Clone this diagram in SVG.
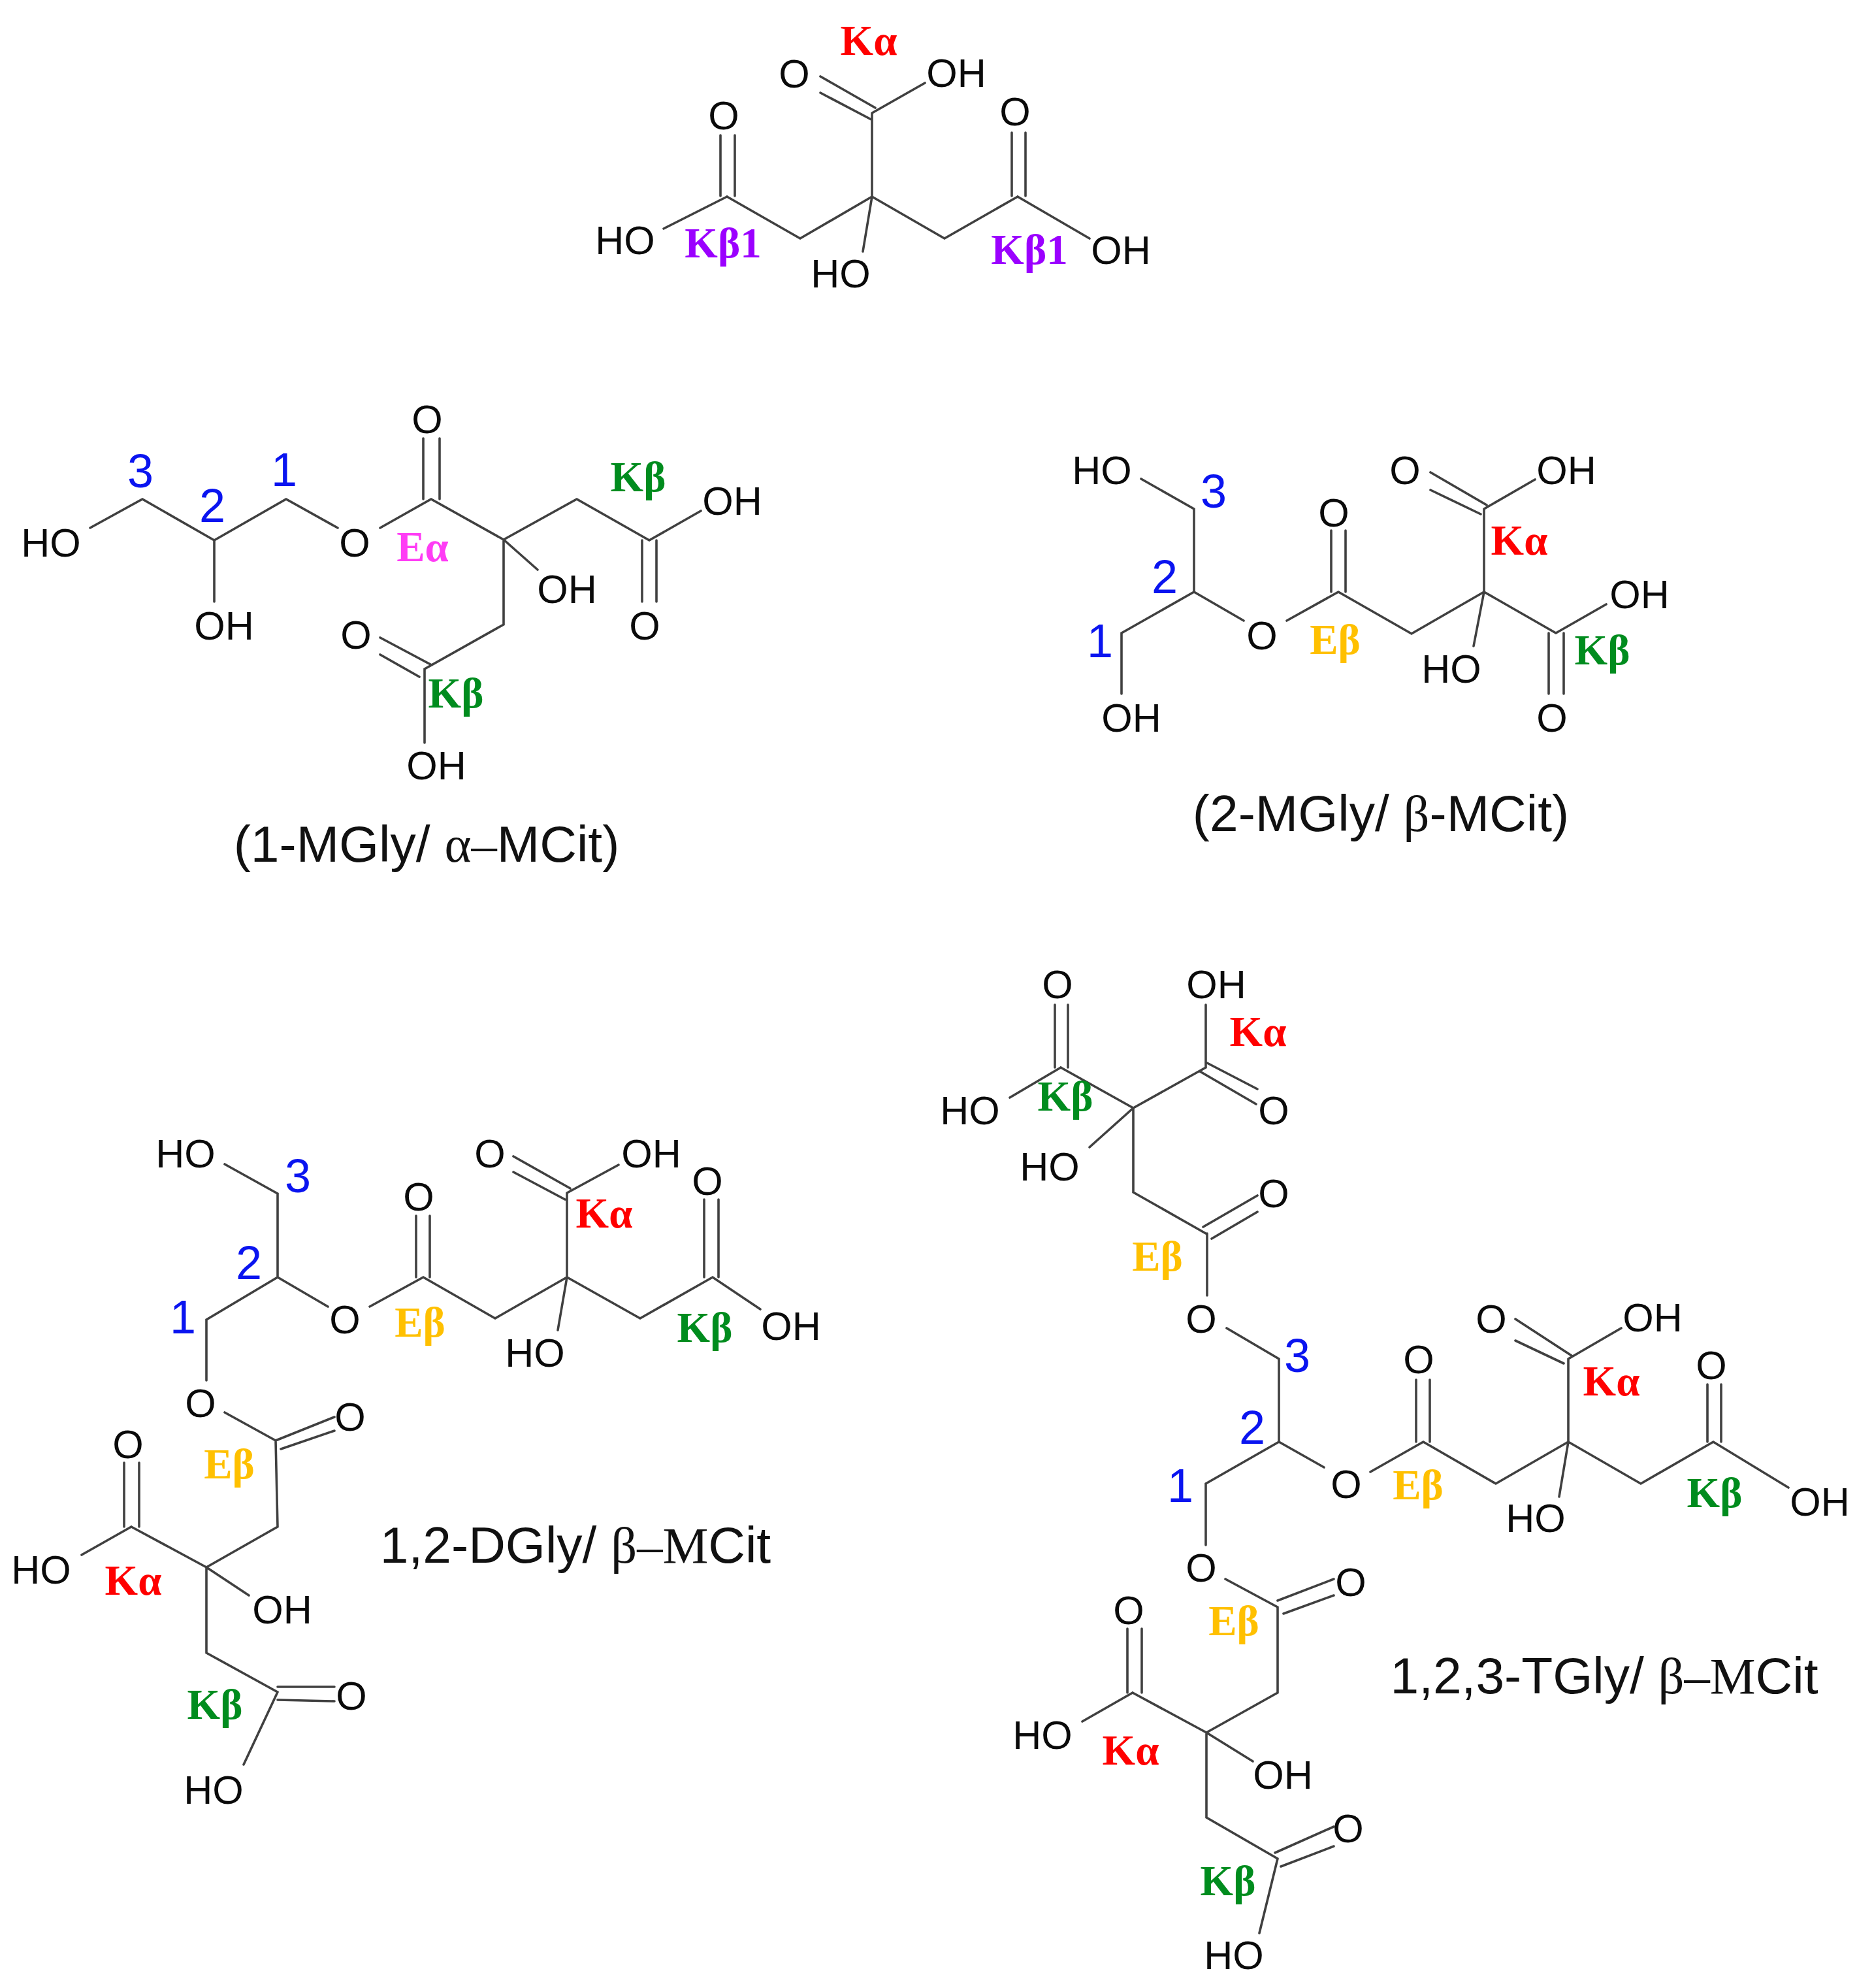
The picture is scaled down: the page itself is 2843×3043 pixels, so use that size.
<svg xmlns="http://www.w3.org/2000/svg" width="2843" height="3043" viewBox="0 0 2843 3043">
<style>
.bg{fill:#fff}
.b{fill:none;stroke:#404040;stroke-width:3.6;stroke-linecap:round;stroke-linejoin:miter}
text{text-anchor:middle}
.a{font-family:"Liberation Sans",Arial,sans-serif;font-size:61px;fill:#0a0a0a}
.n{font-family:"Liberation Sans",Arial,sans-serif;font-size:72px;fill:#0a14f0}
.l{font-family:"Liberation Serif","Times New Roman",serif;font-weight:bold;font-size:65px}
.c{font-family:"Liberation Sans",Arial,sans-serif;font-size:78.5px;fill:#111}
.g{font-family:"Liberation Serif","Times New Roman",serif}
.r{fill:#ff0000}.p{fill:#9b00ff}.gr{fill:#008c1e}.y{fill:#ffc000}.m{fill:#ff3cf5}
</style>
<rect class="bg" width="2843" height="3043"/>
<g id="connectors">
<path id="bonds-citric" class="b" d="M1256 117L1340 165M1256 142L1334 183M1335 173L1416 127M1335 173V301M1335 301L1225 365L1113 301M1103 300V207M1125 300V207M1113 301L1016 350M1335 301L1446 365L1558 301M1549 300V203M1570 300V203M1558 301L1668 365M1335 301L1321 385"/>
<path id="bonds-1mgly" class="b" d="M138 808L218 764L328 827L438 764L517 808M328 827V921M582 808L660 764L771 826L883 764L994 827L1073 782M648 764V671M673 764V671M983 827V921M1005 827V921M771 826L823 872M771 826V956L650 1024V1137M582 976L661 1018M582 1002L642 1036"/>
<path id="bonds-2mgly" class="b" d="M1747 733L1828 779V906L1717 969V1062M1828 906L1904 950M1970 950L2049 906L2161 970L2272 906L2382 969L2459 925M2038 906V812M2060 906V812M2272 906V779M2190 723L2276 773M2190 750L2267 787M2272 779L2350 734M2272 906L2256 989M2371 969V1062M2394 969V1062"/>
<path id="bonds-12dgly" class="b" d="M344 1782L425 1827V1955L316 2020V2113M425 1955L502 2000M566 2000L648 1955L758 2018L868 1955L980 2018L1091 1955L1164 2004M637 1955V1861M658 1955V1861M868 1955V1826M786 1770L873 1819M786 1794L865 1836M868 1826L947 1783M868 1955L854 2036M1078 1955V1836M1100 1955V1836M344 2162L422 2205L425 2337L316 2399M422 2205L512 2169M430 2218L512 2190M316 2399L201 2337M190 2337V2239M213 2337V2239M201 2337L125 2380M316 2399L381 2442M316 2399V2530L425 2590M425 2582L512 2582M425 2602L512 2604M425 2590L373 2701"/>
<path id="bonds-123tgly" class="b" d="M1735 1696L1624 1634M1615 1634V1538M1635 1634V1538M1624 1634L1546 1680M1735 1696L1846 1634V1538M1846 1626L1925 1667M1837 1640L1923 1690M1735 1696L1668 1756M1735 1696V1825L1846 1888M1842 1878L1925 1830M1855 1896L1925 1855M1848 1888V1983M1878 2033L1958 2080V2207L1846 2271V2365M1958 2207L2027 2246M2098 2253L2179 2207L2290 2271L2401 2207L2512 2271L2623 2207L2738 2277M2168 2207V2112M2189 2207V2112M2401 2207V2080M2320 2019L2406 2075M2320 2052L2394 2087M2401 2080L2482 2033M2401 2207L2387 2291M2614 2207V2119M2635 2207V2119M1876 2417L1956 2460V2591L1847 2652L1734 2591M1956 2450L2042 2417M1965 2470L2042 2442M1726 2591V2493M1748 2591V2493M1734 2591L1657 2635M1847 2652L1918 2696M1847 2652V2782L1956 2845M1952 2836L2042 2796M1961 2857L2042 2826M1956 2845L1928 2959"/>
</g>
<g id="citric-acid" transform="translate(-3 0)">
<text class="a" x="1219" y="134">O</text><text class="a" x="1467" y="133">OH</text><text class="a" x="1111" y="198">O</text><text class="a" x="1557" y="192">O</text>
<text class="a" x="960" y="389">HO</text><text class="a" x="1290" y="440">HO</text><text class="a" x="1719" y="404">OH</text>
<text class="l r" x="1333" y="84">Kα</text><text class="l p" x="1110" y="394">Kβ1</text><text class="l p" x="1579" y="404">Kβ1</text>
</g>
<g id="mgly-1" transform="translate(-3 1)">
<text class="a" x="81" y="851">HO</text><text class="a" x="346" y="978">OH</text><text class="a" x="546" y="851">O</text><text class="a" x="657" y="662">O</text><text class="a" x="1124" y="787">OH</text><text class="a" x="990" y="978">O</text><text class="a" x="871" y="922">OH</text><text class="a" x="548" y="992">O</text><text class="a" x="671" y="1192">OH</text>
<text class="n" x="218" y="745">3</text><text class="n" x="328" y="798">2</text><text class="n" x="438" y="743">1</text>
<text class="l m" x="650" y="858">Eα</text><text class="l gr" x="980" y="751">Kβ</text><text class="l gr" x="701" y="1082">Kβ</text>
<text class="c" x="656" y="1318">(1-MGly/ <tspan class="g">α–</tspan>MCit)</text>
</g>
<g id="mgly-2" transform="translate(-3 2)">
<text class="a" x="1690" y="739">HO</text><text class="a" x="1735" y="1118">OH</text><text class="a" x="1935" y="992">O</text><text class="a" x="2045" y="804">O</text><text class="a" x="2154" y="739">O</text><text class="a" x="2401" y="739">OH</text><text class="a" x="2225" y="1043">HO</text><text class="a" x="2513" y="929">OH</text><text class="a" x="2379" y="1118">O</text>
<text class="n" x="1861" y="775">3</text><text class="n" x="1786" y="906">2</text><text class="n" x="1687" y="1004">1</text>
<text class="l y" x="2047" y="999">Eβ</text><text class="l r" x="2329" y="847">Kα</text><text class="l gr" x="2456" y="1015">Kβ</text>
<text class="c" x="2117" y="1270">(2-MGly/ <tspan class="g">β</tspan>-MCit)</text>
</g>
<g id="dgly-12" transform="translate(-3 1)">
<text class="a" x="287" y="1786">HO</text><text class="a" x="310" y="2168">O</text><text class="a" x="531" y="2040">O</text><text class="a" x="1214" y="2050">OH</text><text class="a" x="644" y="1852">O</text><text class="a" x="753" y="1786">O</text><text class="a" x="1000" y="1786">OH</text><text class="a" x="822" y="2091">HO</text><text class="a" x="1086" y="1828">O</text><text class="a" x="539" y="2189">O</text><text class="a" x="199" y="2231">O</text><text class="a" x="66" y="2423">HO</text><text class="a" x="435" y="2484">OH</text><text class="a" x="541" y="2616">O</text><text class="a" x="330" y="2760">HO</text>
<text class="n" x="459" y="1824">3</text><text class="n" x="384" y="1957">2</text><text class="n" x="283" y="2040">1</text>
<text class="l y" x="646" y="2045">Eβ</text><text class="l r" x="928" y="1878">Kα</text><text class="l gr" x="1082" y="2053">Kβ</text><text class="l y" x="354" y="2262">Eβ</text><text class="l r" x="207" y="2440">Kα</text><text class="l gr" x="332" y="2630">Kβ</text>
<text class="c" x="884" y="2391">1,2-DGly/ <tspan class="g">β–M</tspan>Cit</text>
</g>
<g id="tgly-123" transform="translate(-3 1)">
<text class="a" x="1622" y="1527">O</text><text class="a" x="1865" y="1527">OH</text><text class="a" x="1488" y="1720">HO</text><text class="a" x="1953" y="1720">O</text><text class="a" x="1610" y="1806">HO</text><text class="a" x="1953" y="1847">O</text><text class="a" x="1842" y="2039">O</text><text class="a" x="2175" y="2101">O</text><text class="a" x="2286" y="2039">O</text><text class="a" x="2533" y="2037">OH</text><text class="a" x="2623" y="2110">O</text><text class="a" x="2064" y="2292">O</text><text class="a" x="2789" y="2319">OH</text><text class="a" x="2354" y="2344">HO</text><text class="a" x="1842" y="2420">O</text><text class="a" x="2071" y="2442">O</text><text class="a" x="1731" y="2485">O</text><text class="a" x="1599" y="2676">HO</text><text class="a" x="1967" y="2737">OH</text><text class="a" x="2067" y="2819">O</text><text class="a" x="1892" y="3013">HO</text>
<text class="n" x="1989" y="2099">3</text><text class="n" x="1920" y="2209">2</text><text class="n" x="1810" y="2298">1</text>
<text class="l r" x="1929" y="1600">Kα</text><text class="l gr" x="1634" y="1699">Kβ</text><text class="l y" x="1775" y="1944">Eβ</text><text class="l r" x="2470" y="2135">Kα</text><text class="l y" x="2174" y="2294">Eβ</text><text class="l gr" x="2628" y="2306">Kβ</text><text class="l y" x="1892" y="2502">Eβ</text><text class="l r" x="1734" y="2700">Kα</text><text class="l gr" x="1883" y="2900">Kβ</text>
<text class="c" x="2459" y="2591">1,2,3-TGly/ <tspan class="g">β–M</tspan>Cit</text>
</g>
</svg>
